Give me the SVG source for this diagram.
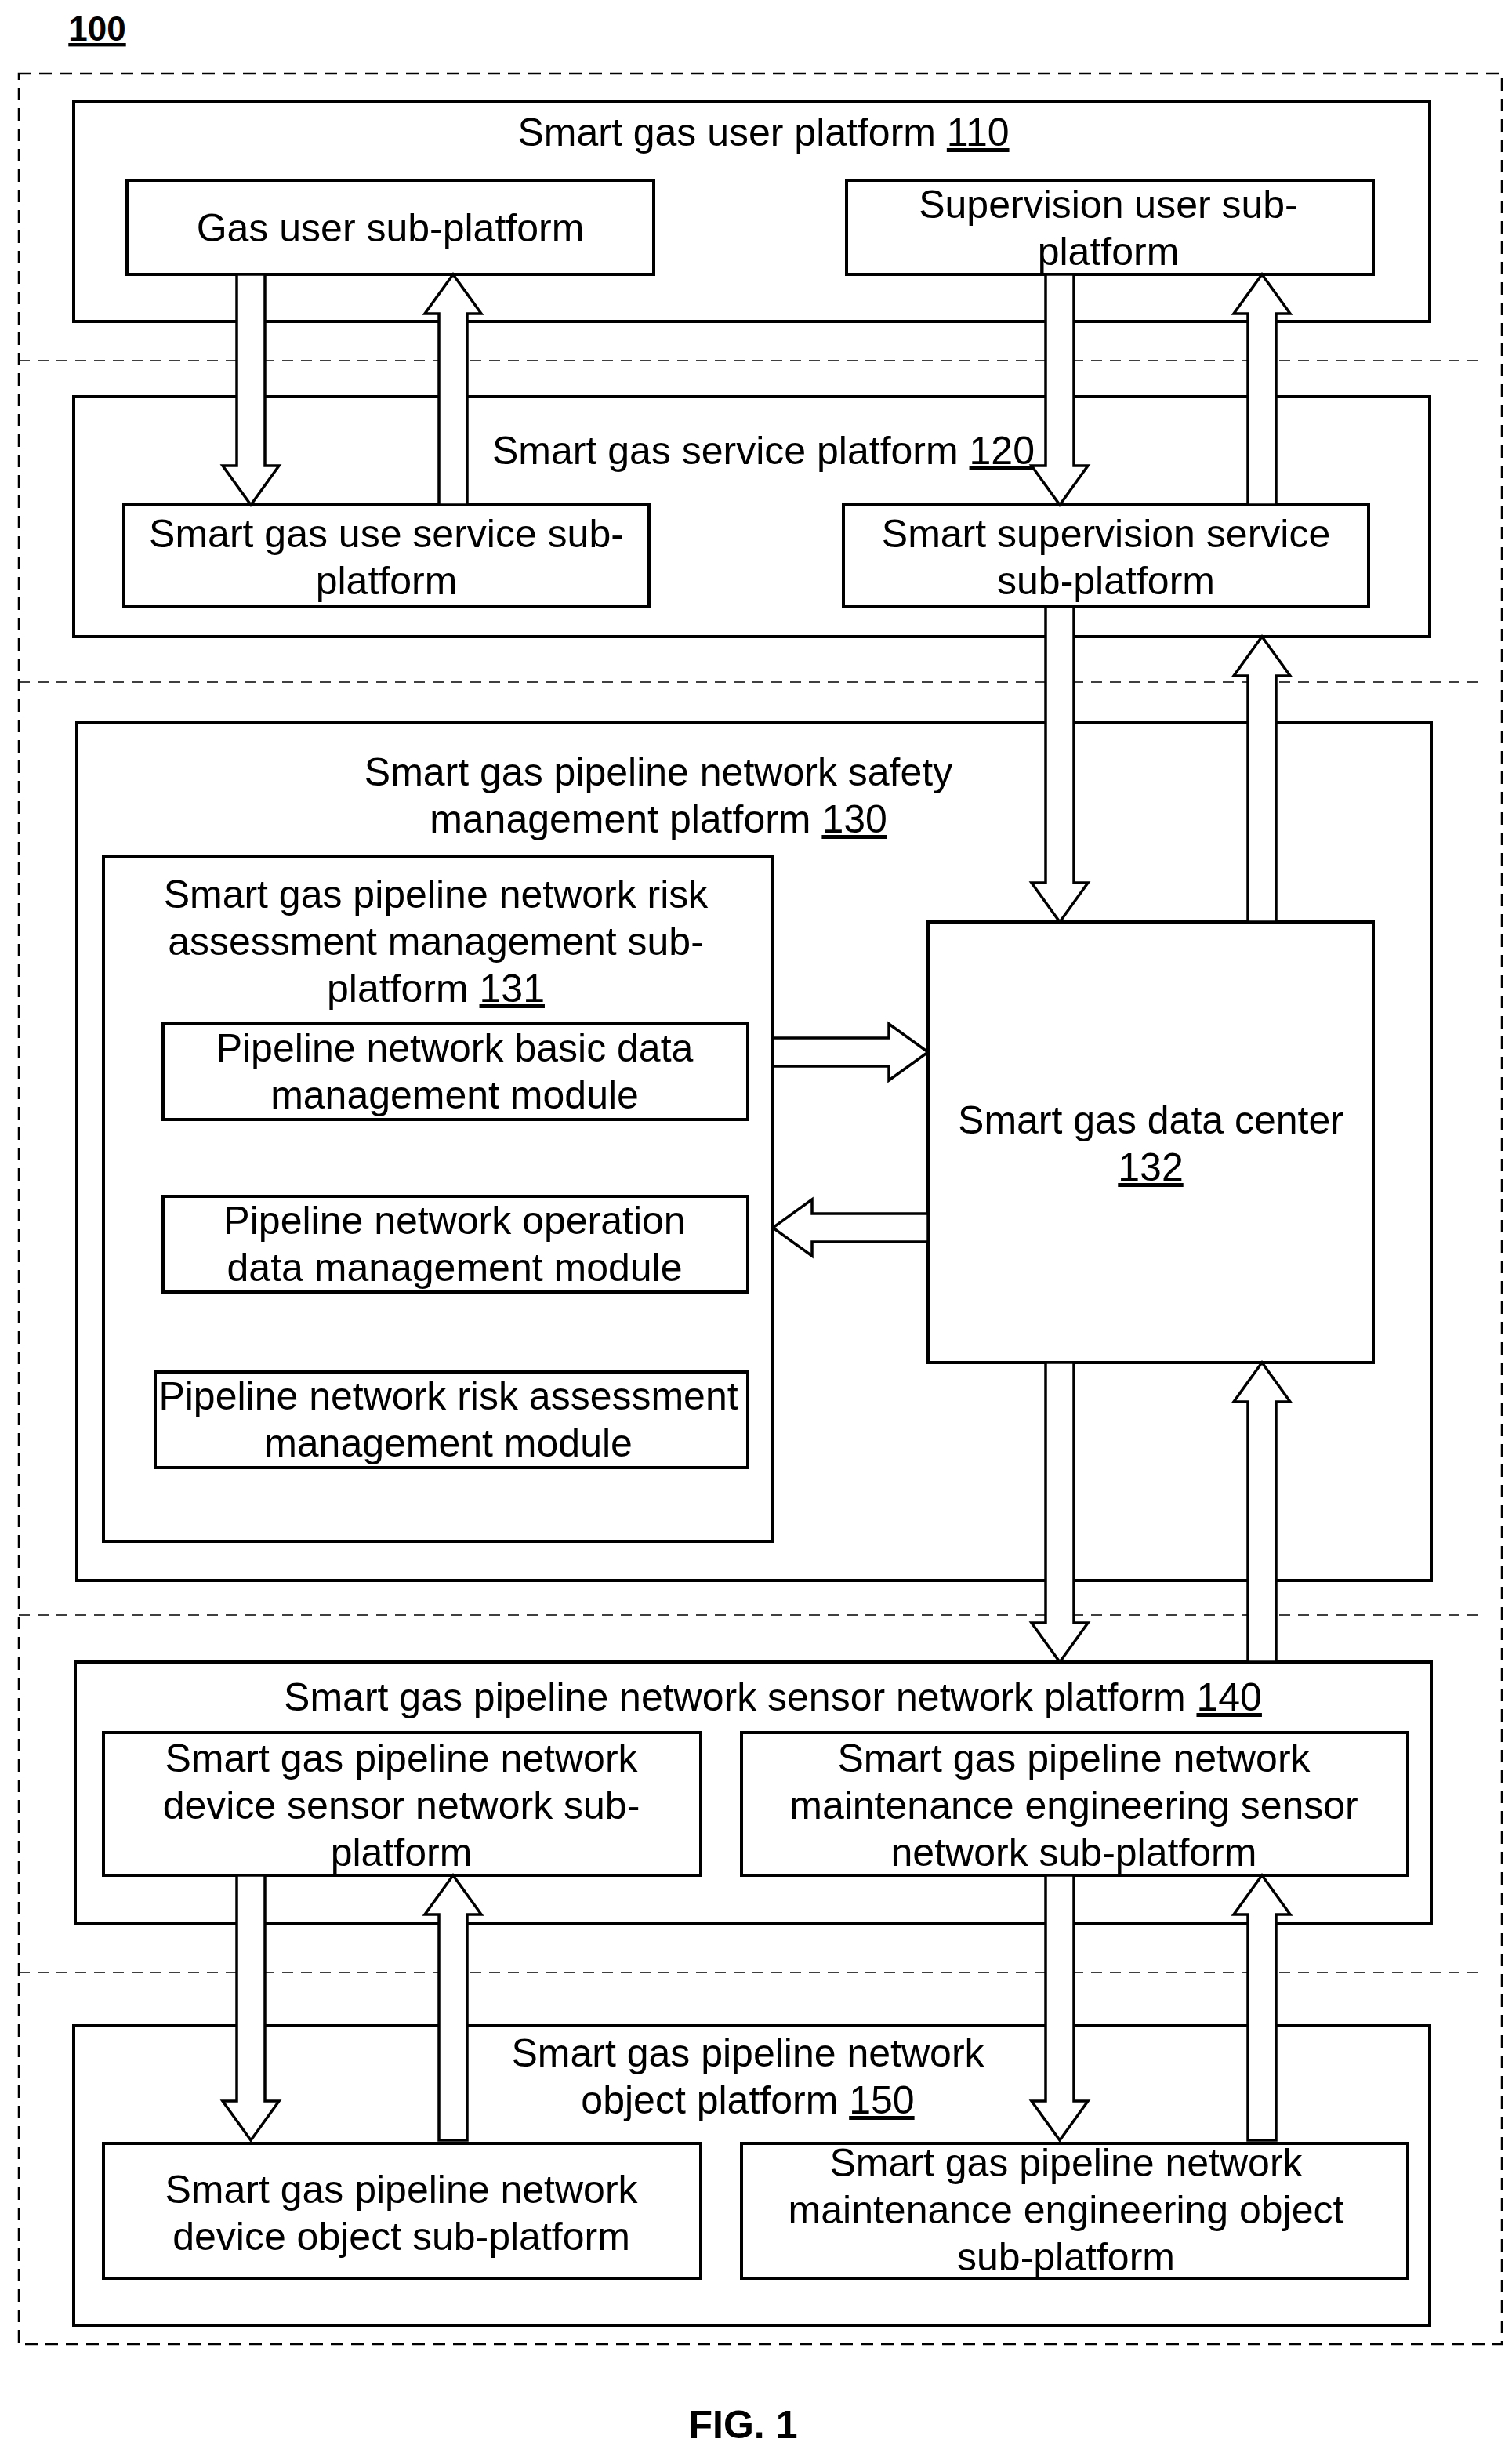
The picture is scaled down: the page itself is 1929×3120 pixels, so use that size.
<svg xmlns="http://www.w3.org/2000/svg" width="1929" height="3120" viewBox="0 0 1929 3120">
<style>
.b{fill:#fff;stroke:#000;stroke-width:4}
.d{fill:none;stroke:#000;stroke-width:2.5;stroke-dasharray:16 10}
.s{fill:none;stroke:#000;stroke-width:1.5;stroke-dasharray:14 10}
.a{fill:#fff;stroke:#000;stroke-width:3.5}
text{font-family:"Liberation Sans",Arial,sans-serif;font-size:50px;text-anchor:middle;fill:#000}
.u{text-decoration:underline}
</style>
<rect width="1929" height="3120" fill="#fff"/>
<text x="124" y="52" style="font-weight:bold;font-size:44px;text-decoration:underline">100</text>
<rect class="d" x="24" y="94" width="1892" height="2896"/>
<g id="separators">
<line class="s" x1="24" y1="460" x2="1890" y2="460"/>
<line class="s" x1="24" y1="870" x2="1890" y2="870"/>
<line class="s" x1="24" y1="2060" x2="1890" y2="2060"/>
<line class="s" x1="24" y1="2516" x2="1890" y2="2516"/>
</g>
<g id="p110"><rect class="b" x="94" y="130" width="1730" height="280"/><text x="974" y="186">Smart gas user platform <tspan class="u">110</tspan></text></g>
<g id="gasuser"><rect class="b" x="162" y="230" width="672" height="120"/><text x="498" y="308">Gas user sub-platform</text></g>
<g id="supuser"><rect class="b" x="1080" y="230" width="672" height="120"/><text x="1414" y="278">Supervision user sub-</text><text x="1414" y="338">platform</text></g>
<g id="p120"><rect class="b" x="94" y="506" width="1730" height="306"/><text x="974" y="592">Smart gas service platform <tspan class="u">120</tspan></text></g>
<g id="useservice"><rect class="b" x="158" y="644" width="670" height="130"/><text x="493" y="698">Smart gas use service sub-</text><text x="493" y="758">platform</text></g>
<g id="supservice"><rect class="b" x="1076" y="644" width="670" height="130"/><text x="1411" y="698">Smart supervision service</text><text x="1411" y="758">sub-platform</text></g>
<g id="p130"><rect class="b" x="98" y="922" width="1728" height="1094"/><text x="840" y="1002">Smart gas pipeline network safety</text><text x="840" y="1062">management platform <tspan class="u">130</tspan></text></g>
<g id="p131"><rect class="b" x="132" y="1092" width="854" height="874"/><text x="556" y="1158">Smart gas pipeline network risk</text><text x="556" y="1218">assessment management sub-</text><text x="556" y="1278">platform <tspan class="u">131</tspan></text></g>
<g id="m1"><rect class="b" x="208" y="1306" width="746" height="122"/><text x="580" y="1354">Pipeline network basic data</text><text x="580" y="1414">management module</text></g>
<g id="m2"><rect class="b" x="208" y="1526" width="746" height="122"/><text x="580" y="1574">Pipeline network operation</text><text x="580" y="1634">data management module</text></g>
<g id="m3"><rect class="b" x="198" y="1750" width="756" height="122"/><text x="572" y="1798">Pipeline network risk assessment</text><text x="572" y="1858">management module</text></g>
<g id="dc"><rect class="b" x="1184" y="1176" width="568" height="562"/><text x="1468" y="1446">Smart gas data center</text><text x="1468" y="1506" class="u">132</text></g>
<g id="p140"><rect class="b" x="96" y="2120" width="1730" height="334"/><text x="986" y="2182">Smart gas pipeline network sensor network platform <tspan class="u">140</tspan></text></g>
<g id="devsensor"><rect class="b" x="132" y="2210" width="762" height="182"/><text x="512" y="2260">Smart gas pipeline network</text><text x="512" y="2320">device sensor network sub-</text><text x="512" y="2380">platform</text></g>
<g id="mainsensor"><rect class="b" x="946" y="2210" width="850" height="182"/><text x="1370" y="2260">Smart gas pipeline network</text><text x="1370" y="2320">maintenance engineering sensor</text><text x="1370" y="2380">network sub-platform</text></g>
<g id="p150"><rect class="b" x="94" y="2584" width="1730" height="382"/><text x="954" y="2636">Smart gas pipeline network</text><text x="954" y="2696">object platform <tspan class="u">150</tspan></text></g>
<g id="devobj"><rect class="b" x="132" y="2734" width="762" height="172"/><text x="512" y="2810">Smart gas pipeline network</text><text x="512" y="2870">device object sub-platform</text></g>
<g id="mainobj"><rect class="b" x="946" y="2734" width="850" height="172"/><text x="1360" y="2776">Smart gas pipeline network</text><text x="1360" y="2836">maintenance engineering object</text><text x="1360" y="2896">sub-platform</text></g>
<g id="connectors">
<path class="a" d="M302 350 L338 350 L338 594 L356 594 L320 644 L284 594 L302 594 Z"/>
<path class="a" d="M560 644 L596 644 L596 400 L614 400 L578 350 L542 400 L560 400 Z"/>
<path class="a" d="M1334 350 L1370 350 L1370 594 L1388 594 L1352 644 L1316 594 L1334 594 Z"/>
<path class="a" d="M1592 644 L1628 644 L1628 400 L1646 400 L1610 350 L1574 400 L1592 400 Z"/>
<path class="a" d="M1334 774 L1370 774 L1370 1126 L1388 1126 L1352 1176 L1316 1126 L1334 1126 Z"/>
<path class="a" d="M1592 1176 L1628 1176 L1628 862 L1646 862 L1610 812 L1574 862 L1592 862 Z"/>
<path class="a" d="M986 1324 L1134 1324 L1134 1306 L1184 1342 L1134 1378 L1134 1360 L986 1360 Z"/>
<path class="a" d="M1184 1548 L1036 1548 L1036 1530 L986 1566 L1036 1602 L1036 1584 L1184 1584 Z"/>
<path class="a" d="M1334 1738 L1370 1738 L1370 2070 L1388 2070 L1352 2120 L1316 2070 L1334 2070 Z"/>
<path class="a" d="M1592 2120 L1628 2120 L1628 1788 L1646 1788 L1610 1738 L1574 1788 L1592 1788 Z"/>
<path class="a" d="M302 2392 L338 2392 L338 2680 L356 2680 L320 2730 L284 2680 L302 2680 Z"/>
<path class="a" d="M560 2730 L596 2730 L596 2442 L614 2442 L578 2392 L542 2442 L560 2442 Z"/>
<path class="a" d="M1334 2392 L1370 2392 L1370 2680 L1388 2680 L1352 2730 L1316 2680 L1334 2680 Z"/>
<path class="a" d="M1592 2730 L1628 2730 L1628 2442 L1646 2442 L1610 2392 L1574 2442 L1592 2442 Z"/>
</g>
<text x="948" y="3110" style="font-weight:bold;font-size:50px">FIG. 1</text>
</svg>
